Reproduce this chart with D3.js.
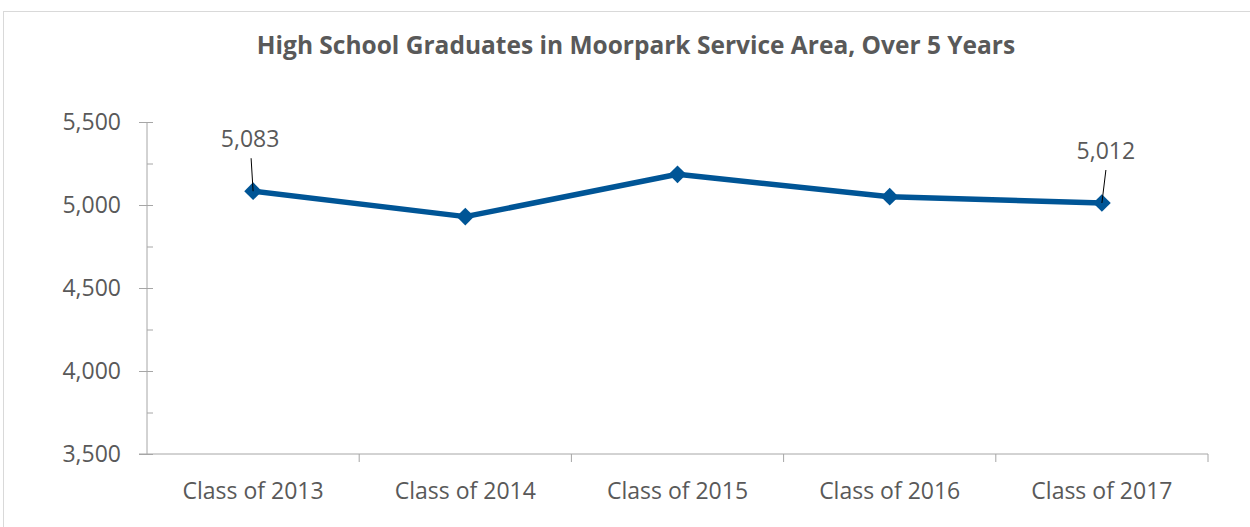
<!DOCTYPE html>
<html>
<head>
<meta charset="utf-8">
<script src="https://cdn.jsdelivr.net/npm/d3@7"></script>
<style>
  body { margin: 0; background: #fff; }
  svg { display: block; }
  text { font-family: "Open Sans", Lato, sans-serif; fill: #595959; }
</style>
</head>
<body>
<svg class="svg-grads"></svg>
<script>
// values
var classes = ["Class of 2013", "Class of 2014", "Class of 2015", "Class of 2016", "Class of 2017"]
var graduates = [5083, 4930, 5185, 5050, 5012]
var yTicks = [3500, 4000, 4500, 5000, 5500]
var labelled = [0, 4] // only first and last points carry a data label

var width = 1250
var height = 527
var margin = { top: 122, right: 42, bottom: 73, left: 147 }

var svg = d3.select('.svg-grads')
    .attr('width', width)
    .attr('height', height)

// chart area border
svg.append('rect')
    .attr('x', 3.5)
    .attr('y', 11.5)
    .attr('width', 1270)
    .attr('height', 540)
    .attr('fill', 'none')
    .attr('stroke', '#d9d9d9')

svg.append('text')
    .attr('x', 636)
    .attr('y', 54)
    .attr('text-anchor', 'middle')
    .style('font-size', '24.5px')
    .style('font-weight', 'bold')
    .text('High School Graduates in Moorpark Service Area, Over 5 Years')

var g = svg.append('g')
    .attr('transform', 'translate(' + margin.left + ',' + margin.top + ')')

var w = width - margin.left - margin.right
var h = height - margin.top - margin.bottom

var x_scale = d3.scaleBand()
    .domain(classes)
    .range([0, w])

var y_scale = d3.scaleLinear()
    .domain([3500, 5500])
    .range([h, 0])

var axisColor = '#a6a6a6'

// minor ticks (inside), then the major axis with crossing ticks
var minor = g.append('g')
    .call(d3.axisRight(y_scale).tickValues(d3.range(3750, 5500, 500)).tickSize(6).tickFormat(''))
minor.select('.domain').remove()
minor.selectAll('line').attr('stroke', axisColor)

var y_axis = g.append('g')
    .call(d3.axisLeft(y_scale).tickValues(yTicks).tickSize(8).tickPadding(18).tickFormat(d3.format(',')))
y_axis.select('.domain').attr('stroke', axisColor).attr('d', 'M0,0V' + h)
y_axis.selectAll('.tick line').attr('stroke', axisColor).attr('x2', -8).attr('x1', 6)
y_axis.selectAll('text').style('font-size', '23px').attr('fill', '#595959')

var x_axis = g.append('g')
    .attr('transform', 'translate(0,' + h + ')')
    .call(d3.axisBottom(x_scale).tickSize(0).tickPadding(29))
x_axis.select('.domain').attr('stroke', axisColor).attr('d', 'M-8,0H' + w)
x_axis.selectAll('text').style('font-size', '23px').attr('fill', '#595959')

// category boundary ticks
g.append('g')
    .selectAll('line')
    .data(d3.range(1, classes.length + 1))
    .enter()
    .append('line')
    .attr('x1', function (d) { return d * x_scale.bandwidth() })
    .attr('x2', function (d) { return d * x_scale.bandwidth() })
    .attr('y1', h)
    .attr('y2', h + 8)
    .attr('stroke', axisColor)

var cx = function (d, i) { return x_scale(classes[i]) + x_scale.bandwidth() / 2 }

var line = d3.line()
    .x(cx)
    .y(function (d) { return y_scale(d) })

g.append('path')
    .datum(graduates)
    .attr('d', line)
    .attr('fill', 'none')
    .attr('stroke', '#005596')
    .attr('stroke-width', 5.5)
    .attr('stroke-linejoin', 'round')

g.selectAll('.pt')
    .data(graduates)
    .enter()
    .append('path')
    .attr('class', 'pt')
    .attr('d', d3.symbol().type(d3.symbolDiamond2).size(200))
    .attr('transform', function (d, i) { return 'translate(' + cx(d, i) + ',' + y_scale(d) + ')' })
    .attr('fill', '#005596')

// data labels with leader lines
var lab = g.selectAll('.lab')
    .data(labelled)
    .enter()
    .append('g')
    .attr('class', 'lab')

lab.append('line')
    .attr('x1', function (i) { return cx(null, i) + (i == 0 ? -2 : 4) })
    .attr('y1', function (i) { return y_scale(graduates[i]) - 33 })
    .attr('x2', function (i) { return cx(null, i) })
    .attr('y2', function (i) { return y_scale(graduates[i]) })
    .attr('stroke', '#000')
    .attr('stroke-width', 1)

lab.append('text')
    .attr('x', function (i) { return cx(null, i) + (i == 0 ? -3 : 4) })
    .attr('y', function (i) { return y_scale(graduates[i]) - 44 })
    .attr('text-anchor', 'middle')
    .style('font-size', '23px')
    .text(function (i) { return d3.format(',')(graduates[i]) })
</script>
</body>
</html>
